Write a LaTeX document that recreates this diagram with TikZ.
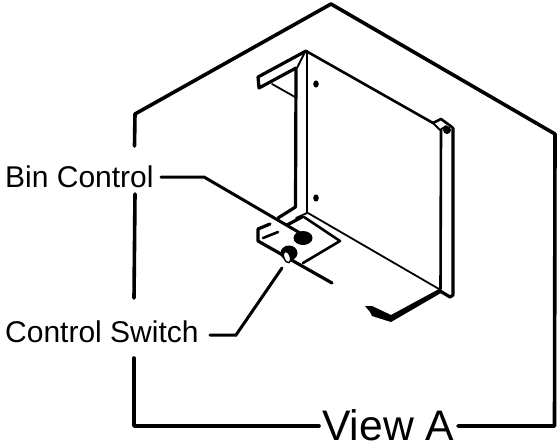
\documentclass[tikz,border=0pt]{standalone}
\usepackage{fontspec}
\setmainfont{Liberation Sans}
\tikzset{
  framel/.style={line width=3.6pt,line cap=round,line join=round},
  leader/.style={line width=3pt,line cap=round,line join=miter},
  heavy/.style={line width=3.2pt,line cap=round,line join=round},
  med/.style={line width=2.6pt,line cap=round,line join=round},
  thin part/.style={line width=1.8pt,line cap=round,line join=round},
  lab/.style={anchor=base west,inner sep=0pt,text=black}
}
\begin{document}
\begin{tikzpicture}[x=1pt,y=-1pt]
\useasboundingbox (0,0) rectangle (559,442);
\fill[white] (0,0) rectangle (559,442);
% frame
\draw[framel] (134.5,146) -- (135,114) -- (331,4) -- (555,134) -- (554.5,426) -- (458,426);
\draw[framel] (135,194) -- (134,298);
\draw[framel] (134,358) -- (134,426) -- (319,426);
% labels
\node[lab,font=\fontsize{30}{32}\selectfont] (bin) at (5,187) {Bin Control};
\node[lab,font=\fontsize{30}{32}\selectfont] (sw) at (5,342) {Control Switch};
\node[lab,font=\fontsize{42.7}{44}\selectfont] (view) at (322,440) {View A};
% panel
\draw[med] (306,51) -- (433,123);
\draw[med] (307,52) -- (307,213);
\draw[heavy] (296,70) -- (295.5,207);
\draw[thin part] (305,52) -- (296,70);
\draw[heavy] (306,51) -- (258,77) -- (259,88) -- (296,68);
\draw[thin part] (272,84) -- (295,97);
\fill (316,84) ellipse (2.8 and 3.6);
\fill (316,198) ellipse (2.8 and 3.6);
% right tab
\draw[med] (433,123) -- (441,119) -- (452,127);
\draw[thin part] (433,123) -- (440,130) -- (446,126);
\fill (447,130) circle (4);
\draw[med] (441,130) -- (440.5,289);
\draw[heavy] (453,128) -- (453,295) -- (450,297) -- (440,291);
% bottom edge
\draw[thin part] (308,213) -- (439,289);
\fill (439,289) -- (441,293) -- (391,322) -- (372,316) -- (370,312) -- (365,306) -- (372,306) -- (391,315) -- cycle;
% plate and lower bracket
\draw[heavy] (295.5,207) -- (278,218);
\draw[heavy] (302,217) -- (287,225);
\draw[thin part] (307,213) -- (296,218);
\draw[med] (304,217) -- (340,241) -- (303,263);
\draw[heavy] (270,224) -- (258,229) -- (258,241) -- (332,283);
\draw[med] (263,238) -- (278,232);
\fill (303,238) ellipse (9.5 and 7);
\fill (289,253) ellipse (8.5 and 7.5);
\filldraw[fill=white,draw=black,line width=1.4pt,rotate around={20:(287,257)}] (287,257) ellipse (3.2 and 6);
% leaders
\coordinate (binend) at (300,233);
\coordinate (swend) at (282,268);
\draw[leader] (161,177) -- (204,177) -- (binend);
\draw[leader] (210,335) -- (236,335) -- (swend);
\end{tikzpicture}
\end{document}
